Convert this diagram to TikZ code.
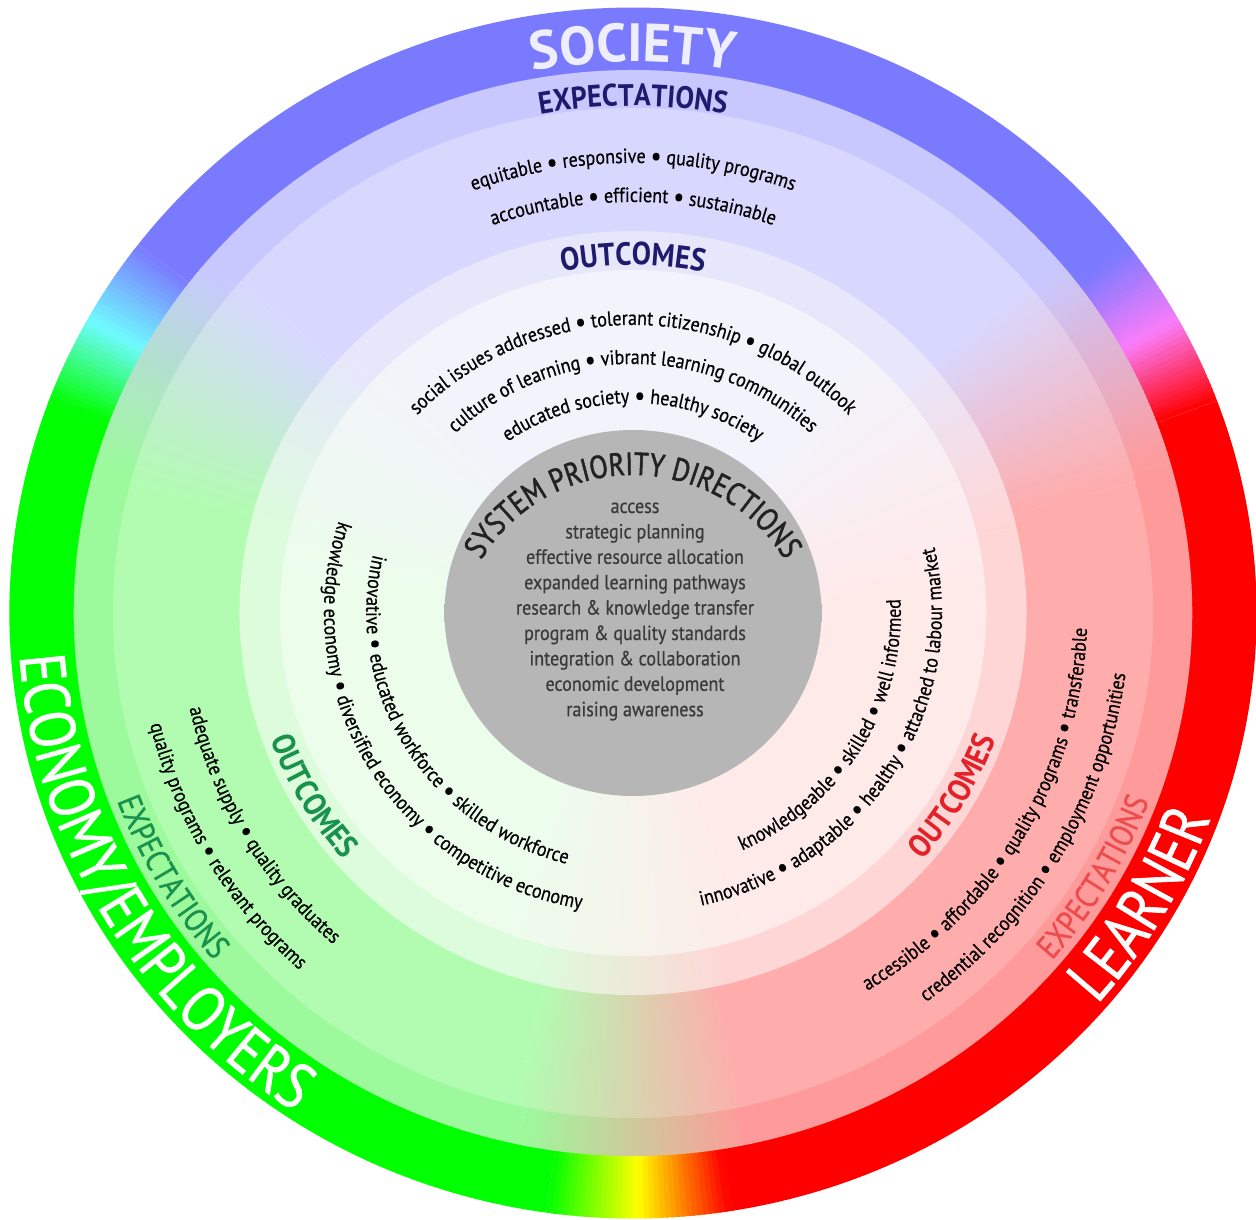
\documentclass[tikz,border=0pt]{standalone}
\usepackage{fontspec}
\setmainfont{PT Sans}
\newfontfamily\condf[FakeStretch=0.88,FakeBold=0.5]{PT Sans}
\newfontfamily\headf[FakeStretch=0.85,FakeBold=1.0]{PT Sans}
\newfontfamily\spdf[FakeStretch=0.84,FakeBold=1.6]{PT Sans}
\newfontfamily\headbf[FakeStretch=0.9]{PT Sans}
\usetikzlibrary{decorations.text}

\definecolor{oB}{RGB}{122,122,255}
\definecolor{oG}{RGB}{0,255,0}
\definecolor{oR}{RGB}{255,0,0}
\definecolor{oBG}{RGB}{112,250,255}
\definecolor{oGR}{RGB}{255,255,0}
\definecolor{oRB}{RGB}{250,125,250}
\definecolor{bB}{RGB}{200,200,255}
\definecolor{bG}{RGB}{156,250,156}
\definecolor{bR}{RGB}{255,154,154}
\definecolor{cB}{RGB}{216,216,255}
\definecolor{cG}{RGB}{178,252,178}
\definecolor{cR}{RGB}{255,172,172}
\definecolor{dB}{RGB}{231,231,252}
\definecolor{dG}{RGB}{220,252,220}
\definecolor{dR}{RGB}{255,214,214}
\definecolor{eB}{RGB}{243,243,251}
\definecolor{eG}{RGB}{236,253,236}
\definecolor{eR}{RGB}{255,234,234}
\colorlet{bBG}{bB!50!bG}\colorlet{bGR}{bG!50!bR}\colorlet{bRB}{bR!50!bB}
\colorlet{cBG}{cB!50!cG}\colorlet{cGR}{cG!50!cR}\colorlet{cRB}{cR!50!cB}
\colorlet{dBG}{dB!50!dG}\colorlet{dGR}{dG!50!dR}\colorlet{dRB}{dR!50!dB}
\colorlet{eBG}{eB!50!eG}\colorlet{eGR}{eG!50!eR}\colorlet{eRB}{eR!50!eB}
\definecolor{grayout}{RGB}{164,164,164}
\definecolor{grayin}{RGB}{182,182,182}
\definecolor{socw}{RGB}{238,238,255}
\definecolor{navy}{RGB}{30,26,110}
\definecolor{greenlab}{RGB}{24,146,76}
\definecolor{redlab}{RGB}{228,32,40}
\definecolor{redexp}{RGB}{238,76,76}
\definecolor{listgray}{RGB}{58,58,58}
\definecolor{spdgray}{RGB}{34,34,34}

\pgfdeclareradialshading{gdisc}{\pgfpoint{0bp}{0bp}}{color(0bp)=(grayin); color(36bp)=(grayin); color(44bp)=(grayout); color(50bp)=(grayout)}

% annular segment: rin, rout, a1, a2, colour
\newcommand\seg[5]{\fill[#5,xscale=1.03] (#3:#1pt) -- (#3:#2pt) arc[start angle=#3,end angle=#4,radius=#2pt] -- (#4:#1pt) arc[start angle=#4,end angle=#3,radius=#1pt] -- cycle;}
% transition: rin, rout, a0, a1, colA, colMid, colB
\newcommand\trans[7]{%
  \pgfmathtruncatemacro\trN{round((#4-#3)/0.5)}%
  \foreach \trK in {1,...,\trN}{%
    \pgfmathsetmacro\trA{#3+(\trK-1)*0.5}%
    \pgfmathsetmacro\trB{\trA+0.8}%
    \pgfmathsetmacro\trT{(\trK-0.5)/\trN}%
    \ifdim\trT pt<0.5pt
      \pgfmathsetmacro\trP{200*\trT}%
      \colorlet{tmpc}{#6!\trP!#5}%
    \else
      \pgfmathsetmacro\trP{200*(\trT-0.5)}%
      \colorlet{tmpc}{#7!\trP!#6}%
    \fi
    \seg{#1}{#2}{\trA}{\trB}{tmpc}%
  }}
% ring: rin, rout, prefix, cRB, cBG, cGR, halfwidth
\newcommand\ring[7]{%
  \pgfmathsetmacro\rgA{#4+#7}\pgfmathsetmacro\rgB{#5-#7}%
  \pgfmathsetmacro\rgC{#5+#7}\pgfmathsetmacro\rgD{#6-#7}%
  \pgfmathsetmacro\rgE{#6+#7}\pgfmathsetmacro\rgF{#4+360-#7}%
  \pgfmathsetmacro\rgG{#4-#7}%
  \seg{#1}{#2}{\rgA}{\rgB}{#3B}%
  \seg{#1}{#2}{\rgC}{\rgD}{#3G}%
  \seg{#1}{#2}{\rgE}{\rgF}{#3R}%
  \trans{#1}{#2}{\rgB}{\rgC}{#3B}{#3BG}{#3G}%
  \trans{#1}{#2}{\rgD}{\rgE}{#3G}{#3GR}{#3R}%
  \trans{#1}{#2}{\rgG}{\rgA}{#3R}{#3RB}{#3B}%
}
% text on elliptic arc: r, a1, a2, format, text
\newcommand\ctext[5]{\path[decorate,decoration={text along path,text align=center,text={|#4|#5}}] (#2:{1.03*#1pt} and {#1pt}) arc[start angle=#2,end angle=#3,x radius={1.03*#1pt},y radius={#1pt}];}

\newcommand\fsm{\condf\fontsize{20.5}{22}\selectfont\color{black}}
\newcommand\bul{\raisebox{-1.6pt}{\fontsize{27}{27}\selectfont •}}
\newcommand\fout{\headbf\bfseries\fontsize{32}{34}\selectfont}

\begin{document}
\begin{tikzpicture}
\useasboundingbox (-633pt,-606pt) rectangle (623pt,613pt);
\fill[white] (-633pt,-606pt) rectangle (623pt,613pt);

\ring{542.5}{605.5}{o}{29}{151}{270.5}{8.5}
\ring{504.5}{543}{b}{28}{152}{270}{12}
\ring{381.5}{505}{c}{28}{152}{270}{13}
\ring{342.5}{382}{d}{28}{152}{270}{15}
\ring{180}{343}{e}{28}{152}{270}{22}

\shade[shading=gdisc,xscale=1.03] (0,0) circle (183pt);

% top (society)
\ctext{551}{140}{40}{\fontsize{54}{58}\selectfont\bfseries\color{socw}}{SOCIETY}
\ctext{507}{140}{40}{\headbf\bfseries\fontsize{31}{33}\selectfont\color{navy}}{EXPECTATIONS}
\ctext{450}{150}{30}{\fsm}{equitable {\bul} responsive {\bul} quality programs}
\ctext{411}{150}{30}{\fsm}{accountable {\bul} efficient {\bul} sustainable}
\ctext{348}{150}{30}{\fout\color{navy}}{OUTCOMES}
\ctext{288}{160}{20}{\fsm}{social issues addressed {\bul} tolerant citizenship {\bul} global outlook}
\ctext{249}{160}{20}{\fsm}{culture of learning {\bul} vibrant learning communities}
\ctext{210}{160}{20}{\fsm}{educated society {\bul} healthy society}

% left (economy)
\ctext{597}{150}{270}{\headf\fontsize{64}{66}\selectfont\color{white}}{ECONOMY/EMPLOYERS}
\ctext{535}{150}{270}{\headf\fontsize{33}{35}\selectfont\color{greenlab}}{EXPECTATIONS}
\ctext{482}{140}{280}{\fsm}{quality programs {\bul} relevant programs}
\ctext{441}{140}{280}{\fsm}{adequate supply {\bul} quality graduates}
\ctext{374}{150}{270}{\fout\color{greenlab}}{OUTCOMES}
\ctext{300}{140}{282}{\fsm}{knowledge economy {\bul} diversified economy {\bul} competitive economy}
\ctext{259}{140}{282}{\fsm}{innovative {\bul} educated workforce {\bul} skilled workforce}

% right (learner)
\ctext{597}{270}{390}{\headf\fontsize{64}{66}\selectfont\color{white}}{LEARNER}
\ctext{535}{270}{390}{\headf\fontsize{33}{35}\selectfont\color{redexp}}{EXPECTATIONS}
\ctext{482}{260}{400}{\fsm}{credential recognition {\bul} employment opportunities}
\ctext{441}{260}{400}{\fsm}{accessible {\bul} affordable {\bul} quality programs {\bul} transferable}
\ctext{374}{270}{390}{\fout\color{redlab}}{OUTCOMES}
\ctext{300}{258}{398}{\fsm}{innovative {\bul} adaptable {\bul} healthy {\bul} attached to labour market}
\ctext{260}{259}{399}{\fsm}{knowledgeable {\bul} skilled {\bul} well informed}

% centre
\begin{scope}[shift={(0pt,-32pt)}]
\ctext{170}{165}{15}{\spdf\fontsize{32}{34}\selectfont\color{spdgray}}{SYSTEM PRIORITY DIRECTIONS}
\end{scope}
\foreach \t [count=\i] in {access,strategic planning,effective resource allocation,expanded learning pathways,research \& knowledge transfer,program \& quality standards,integration \& collaboration,economic development,raising awareness}
  \node[anchor=base,inner sep=0pt,font=\condf\fontsize{20.5}{22}\selectfont,text=listgray] (l\i) at (2pt,{(100-(\i-1)*25.4)*1pt}) {\t};
\end{tikzpicture}
\end{document}
